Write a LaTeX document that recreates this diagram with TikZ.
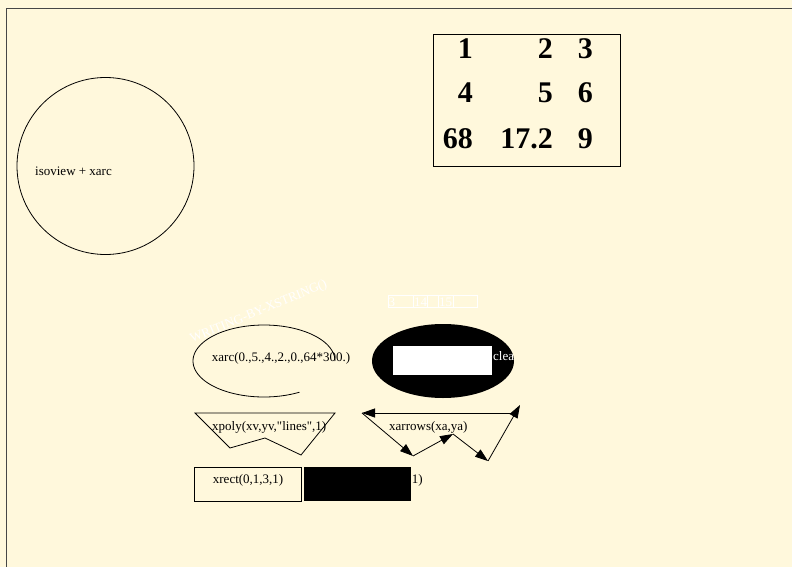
\documentclass[tikz,border=0pt]{standalone}
\usepackage{fontspec}
\setmainfont{Liberation Serif}[Ligatures=TeXOff]
\usetikzlibrary{arrows.meta}
\definecolor{bgcream}{RGB}{255,248,220}
\definecolor{framegray}{RGB}{70,70,70}
\begin{document}
\begin{tikzpicture}[x=1pt,y=-1pt,
  lbl/.style={inner sep=0pt,anchor=base west,font=\fontsize{13}{15}\selectfont},
  big/.style={inner sep=0pt,anchor=base east,font=\fontsize{30}{34}\selectfont\bfseries},
  thin/.style={line width=0.8pt},
  arr/.style={thin,-{Triangle[length=13pt,width=9pt]}}]
\useasboundingbox (0,0) rectangle (792,567);
\fill[bgcream] (0,0) rectangle (792,567);
% frame
\draw[framegray,line width=1.6pt] (6.5,567) -- (6.5,8.5) -- (792,8.5);
% circle
\draw[thin] (105.5,166) circle[radius=88.5pt];
\node[lbl] (iso) at (35,175) {isoview + xarc};
% table
\draw[thin] (433,34) rectangle (620,166);
\node[big] (t11) at (473,59) {1};
\node[big] (t12) at (553,59) {2};
\node[big] (t13) at (593,59) {3};
\node[big] (t21) at (473,103) {4};
\node[big] (t22) at (553,103) {5};
\node[big] (t23) at (593,103) {6};
\node[big] (t31) at (473,148) {68};
\node[big] (t32) at (553,148) {17.2};
\node[big] (t33) at (593,148) {9};
% rotated white text
\node[lbl,white,rotate=22.4] (xstr) at (192,343) {WRITING-BY-XSTRING()};
% small white table
\draw[white,thin] (388,295) rectangle (477,307);
\draw[white,thin] (413,295) -- (413,307) (427,295) -- (427,307) (438,295) -- (438,307) (453,295) -- (453,307);
\node[lbl,white] (s1) at (388.5,306) {3};
\node[lbl,white] (s2) at (414,306) {14};
\node[lbl,white] (s3) at (439,306) {15};
% xarc
\draw[thin] plot[domain=60:360,samples=120,smooth] ({264+71*cos(\x)},{361+36*sin(\x)});
\node[lbl] (xarc) at (211.7,361) {xarc(0.,5.,4.,2.,0.,64*300.)};
% filled ellipse with clear
\fill[black] (443,361) ellipse[x radius=71pt,y radius=37pt];
\fill[white] (393,346) rectangle (492,375);
\begin{scope}
\clip (443,361) ellipse[x radius=71pt,y radius=37pt];
\node[lbl,white] (clr) at (493,360) {clea};
\end{scope}
% xpoly
\coordinate (p1) at (195,413);
\coordinate (p2) at (335,413);
\coordinate (p3) at (301,455);
\coordinate (p4) at (265,438);
\coordinate (p5) at (230,448);
\draw[thin] (p1) -- (p2) -- (p3) -- (p4) -- (p5) -- cycle;
\node[lbl] (xpoly) at (212,430.5) {xpoly(xv,yv,"lines",1)};
% xarrows
\coordinate (a0) at (515.5,413);
\coordinate (a1) at (362,413);
\coordinate (a2) at (413,456);
\coordinate (a3) at (453,434);
\coordinate (a4) at (488,461);
\coordinate (a5) at (520,405);
\draw[arr] (a0) -- (a1);
\draw[arr] (a1) -- (a2);
\draw[arr] (a2) -- (a3);
\draw[arr] (a3) -- (a4);
\draw[arr] (a4) -- (a5);
\node[lbl] (xarrows) at (389,430) {xarrows(xa,ya)};
% xrect
\draw[thin] (194,467) rectangle (301,501);
\node[lbl] (xrect) at (212.7,483) {xrect(0,1,3,1)};
\fill[black] (304,467) rectangle (411,501);
\node[lbl] (xfrect) at (411.7,483) {1)};
\end{tikzpicture}
\end{document}
